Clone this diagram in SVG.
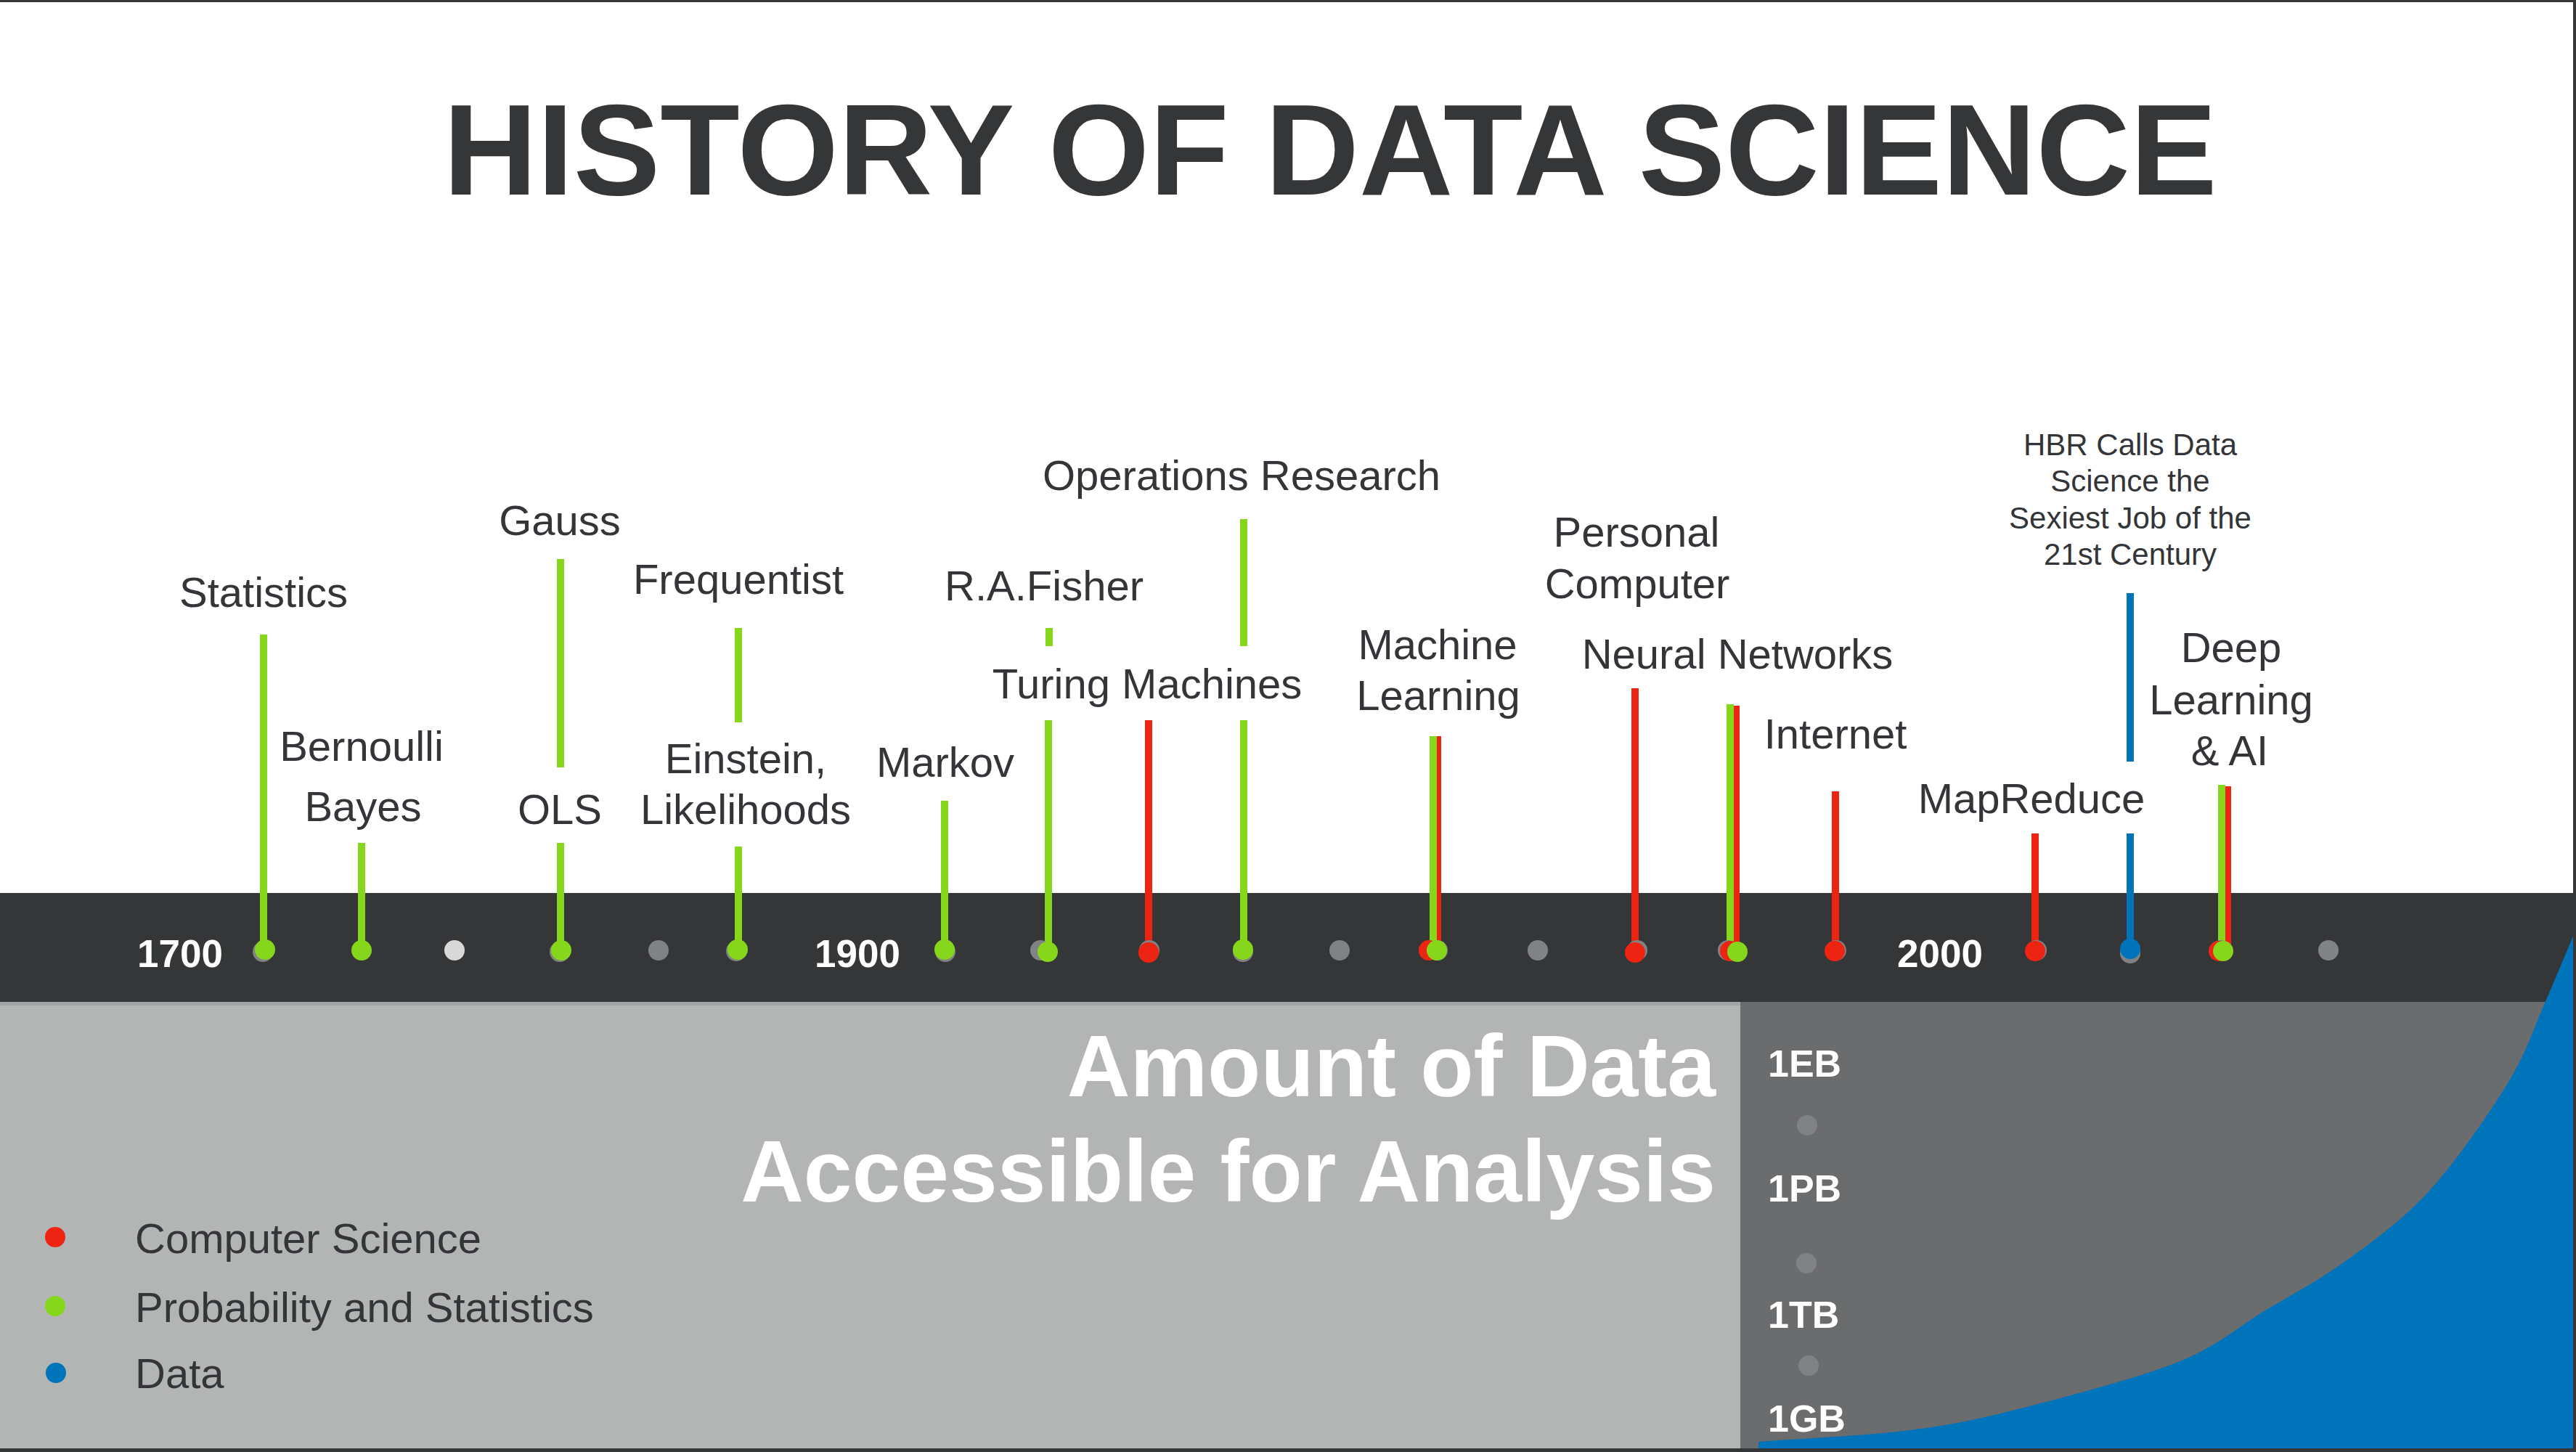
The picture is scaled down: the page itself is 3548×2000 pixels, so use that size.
<svg xmlns="http://www.w3.org/2000/svg" width="3548" height="2000" viewBox="0 0 3548 2000">
<style>
.lbl{font-family:"Liberation Sans",Arial,sans-serif;font-size:58px;fill:#333538;text-anchor:middle}
.sm{font-size:42px}
.yr{font-family:"Liberation Sans",Arial,sans-serif;font-weight:bold;font-size:53px;fill:#fff;text-anchor:middle}
.gb{font-family:"Liberation Sans",Arial,sans-serif;font-weight:bold;font-size:52px;fill:#fff}
.big{font-family:"Liberation Sans",Arial,sans-serif;font-weight:bold;font-size:120px;fill:#fff;text-anchor:end}
.leg{font-family:"Liberation Sans",Arial,sans-serif;font-size:58px;fill:#333538}
.g{stroke:#86d61b;stroke-width:10}
.r{stroke:#ee2412;stroke-width:10}
.b{stroke:#0074bb;stroke-width:10}
.dg{fill:#86d61b}.dr{fill:#ee2412}.db{fill:#0074bb}.dx{fill:#808285}.dl{fill:#d9d9d9}
</style>
<rect width="3548" height="2000" fill="#fff"/>
<g id="background">
<rect x="0" y="1380" width="2397" height="620" fill="#b3b4b4"/>
<rect x="0" y="1380" width="2397" height="5" fill="#a3a4a5"/>
<rect x="2397" y="1380" width="1151" height="620" fill="#6b6c6e"/>
<rect x="0" y="1230" width="3548" height="150" fill="#353638"/>
<path d="M2422,2000 L2422,1986 C2491.3,1980.7 2569.8,1977.7 2630,1970 C2690.2,1962.3 2721.3,1955.7 2783,1940 C2844.7,1924.3 2943.8,1898.5 3000,1876 C3056.2,1853.5 3084,1826.5 3120,1805 C3156,1783.5 3183.5,1769.3 3216,1747 C3248.5,1724.7 3287,1696.5 3315,1671 C3343,1645.5 3359.7,1625.8 3384,1594 C3408.3,1562.2 3441,1515 3461,1480 C3481,1445 3489.5,1417.3 3504,1384 C3518.5,1350.7 3533.3,1314.7 3548,1280 L3548,2000 Z" fill="#0074bb"/>
<rect x="0" y="0" width="3548" height="3" fill="#353638"/>
<rect x="3544" y="0" width="4" height="2000" fill="#353638"/>
<rect x="0" y="1995" width="3548" height="5" fill="#353638"/>
</g>
<g id="title"><text x="1832" y="268" text-anchor="middle" font-family="Liberation Sans, Arial, sans-serif" font-weight="bold" font-size="178" fill="#353638" textLength="2443" lengthAdjust="spacingAndGlyphs">HISTORY OF DATA SCIENCE</text></g>
<g id="connectors">
<line class="g" x1="363" y1="874" x2="363" y2="1308"/>
<line class="g" x1="498" y1="1161" x2="498" y2="1308"/>
<line class="g" x1="772" y1="770" x2="772" y2="1057"/>
<line class="g" x1="772" y1="1161" x2="772" y2="1308"/>
<line class="g" x1="1017" y1="865" x2="1017" y2="995"/>
<line class="g" x1="1017" y1="1166" x2="1017" y2="1308"/>
<line class="g" x1="1301" y1="1103" x2="1301" y2="1308"/>
<line class="g" x1="1445" y1="865" x2="1445" y2="890"/>
<line class="g" x1="1444" y1="992" x2="1444" y2="1308"/>
<line class="r" x1="1582" y1="992" x2="1582" y2="1308"/>
<line class="g" x1="1713" y1="715" x2="1713" y2="890"/>
<line class="g" x1="1713" y1="992" x2="1713" y2="1308"/>
<line class="r" x1="1980" y1="1014" x2="1980" y2="1308"/>
<line class="g" x1="1974" y1="1014" x2="1974" y2="1308"/>
<line class="r" x1="2252" y1="948" x2="2252" y2="1308"/>
<line class="r" x1="2391" y1="972" x2="2391" y2="1308"/>
<line class="g" x1="2383" y1="970" x2="2383" y2="1308"/>
<line class="r" x1="2528" y1="1090" x2="2528" y2="1308"/>
<line class="r" x1="2803" y1="1148" x2="2803" y2="1308"/>
<line class="b" x1="2934" y1="817" x2="2934" y2="1049"/>
<line class="b" x1="2934" y1="1148" x2="2934" y2="1308"/>
<line class="r" x1="3068" y1="1083" x2="3068" y2="1308"/>
<line class="g" x1="3060" y1="1081" x2="3060" y2="1308"/>
</g>
<g id="axis">
<text class="yr" x="248" y="1332">1700</text>
<text class="yr" x="1181" y="1332">1900</text>
<text class="yr" x="2672" y="1332">2000</text>
<circle class="dl" cx="626" cy="1309" r="14"/>
<circle class="dx" cx="907" cy="1309" r="14"/>
<circle class="dx" cx="1845" cy="1309" r="14"/>
<circle class="dx" cx="2118" cy="1309" r="14"/>
<circle class="dx" cx="3207" cy="1309" r="14"/>
</g>
<g id="n-statistics"><circle class="dx" cx="362" cy="1311" r="14"/><circle class="dg" cx="365" cy="1308" r="14"/><text class="lbl" x="363" y="836">Statistics</text></g>
<g id="n-bernoulli-bayes"><circle class="dg" cx="498" cy="1309" r="14"/><text class="lbl" x="498" y="1048">Bernoulli</text><text class="lbl" x="500" y="1131">Bayes</text></g>
<g id="n-gauss-ols"><circle class="dx" cx="771" cy="1311" r="14"/><circle class="dg" cx="773" cy="1309" r="14"/><text class="lbl" x="771" y="737">Gauss</text><text class="lbl" x="771" y="1135">OLS</text></g>
<g id="n-frequentist-einstein"><circle class="dx" cx="1014" cy="1310" r="14"/><circle class="dg" cx="1016" cy="1308" r="14"/><text class="lbl" x="1017" y="818">Frequentist</text><text class="lbl" x="1027" y="1065">Einstein,</text><text class="lbl" x="1027" y="1135">Likelihoods</text></g>
<g id="n-markov"><circle class="dx" cx="1302" cy="1311" r="14"/><circle class="dg" cx="1301" cy="1308" r="14"/><text class="lbl" x="1302" y="1070">Markov</text></g>
<g id="n-fisher-turing-ops"><circle class="dx" cx="1433" cy="1309" r="14"/><circle class="dg" cx="1443" cy="1311" r="14"/><circle class="dx" cx="1583" cy="1309" r="14"/><circle class="dr" cx="1582" cy="1312" r="14"/><circle class="dx" cx="1712" cy="1311" r="14"/><circle class="dg" cx="1712" cy="1308" r="14"/><text class="lbl" x="1438" y="827">R.A.Fisher</text><text class="lbl" x="1710" y="675">Operations Research</text><text class="lbl" x="1580" y="962">Turing Machines</text></g>
<g id="n-machine-learning"><circle class="dx" cx="1980" cy="1309" r="14"/><circle class="dr" cx="1968" cy="1309" r="14"/><circle class="dg" cx="1979" cy="1309" r="14"/><text class="lbl" x="1980" y="908">Machine</text><text class="lbl" x="1981" y="978">Learning</text></g>
<g id="n-personal-computer"><circle class="dx" cx="2255" cy="1309" r="14"/><circle class="dr" cx="2252" cy="1312" r="14"/><text class="lbl" x="2254" y="753">Personal</text><text class="lbl" x="2255" y="824">Computer</text></g>
<g id="n-neural-networks"><circle class="dx" cx="2380" cy="1309" r="14"/><circle class="dr" cx="2383" cy="1310" r="14"/><circle class="dg" cx="2393" cy="1311" r="14"/><text class="lbl" x="2393" y="921">Neural Networks</text></g>
<g id="n-internet"><circle class="dx" cx="2529" cy="1309" r="14"/><circle class="dr" cx="2527" cy="1310" r="14"/><text class="lbl" x="2528" y="1031">Internet</text></g>
<g id="n-mapreduce"><circle class="dx" cx="2805" cy="1309" r="14"/><circle class="dr" cx="2803" cy="1310" r="14"/><text class="lbl" x="2798" y="1120">MapReduce</text></g>
<g id="n-hbr"><circle class="dx" cx="2934" cy="1313" r="14"/><circle class="db" cx="2934" cy="1307" r="14"/><text class="lbl sm" x="2934" y="627">HBR Calls Data</text><text class="lbl sm" x="2934" y="677">Science the</text><text class="lbl sm" x="2934" y="728">Sexiest Job of the</text><text class="lbl sm" x="2934" y="778">21st Century</text></g>
<g id="n-deep-learning"><circle class="dx" cx="3058" cy="1309" r="14"/><circle class="dr" cx="3056" cy="1310" r="14"/><circle class="dg" cx="3062" cy="1310" r="14"/><text class="lbl" x="3073" y="912">Deep</text><text class="lbl" x="3073" y="984">Learning</text><text class="lbl" x="3071" y="1054">&amp; AI</text></g>
<g id="data-amount">
<text class="big" x="2363" y="1510">Amount of Data</text>
<text class="big" x="2363" y="1655">Accessible for Analysis</text>
<circle class="dx" cx="2489" cy="1550" r="14"/>
<circle class="dx" cx="2488" cy="1740" r="14"/>
<circle class="dx" cx="2491" cy="1881" r="14"/>
<text class="gb" x="2435" y="1483">1EB</text>
<text class="gb" x="2435" y="1655">1PB</text>
<text class="gb" x="2435" y="1829">1TB</text>
<text class="gb" x="2435" y="1972">1GB</text>
</g>
<g id="legend">
<circle class="dr" cx="76" cy="1704" r="14"/>
<circle class="dg" cx="76" cy="1799" r="14"/>
<circle class="db" cx="77" cy="1891" r="14"/>
<text class="leg" x="186" y="1726">Computer Science</text>
<text class="leg" x="186" y="1821">Probability and Statistics</text>
<text class="leg" x="186" y="1912">Data</text>
</g>
</svg>
